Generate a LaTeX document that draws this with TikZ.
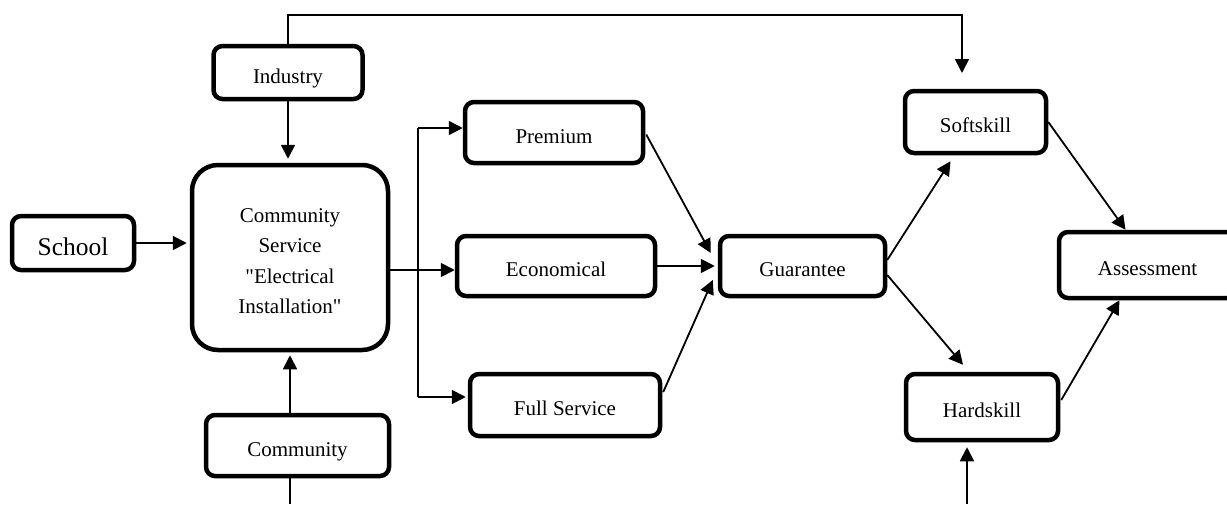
\documentclass[tikz,border=0pt]{standalone}
\usepackage{fontspec}
\setmainfont{Liberation Serif}[Ligatures=TeXOff]
\usetikzlibrary{arrows.meta,calc}
\begin{document}
\begin{tikzpicture}[x=1pt,y=-1pt,
  box/.style={draw, line width=4.5pt, rounded corners=9pt, align=center, inner sep=0pt,
    font=\fontsize{21}{30.5}\selectfont, text height=21pt, text depth=0pt},
  arr/.style={line width=1.8pt, -{Triangle[length=14pt,width=14pt]}},
  ln/.style={line width=1.8pt}]
\useasboundingbox (0,0) rectangle (1227,504);
\clip (0,0) rectangle (1227,504);
% nodes
\node[box, minimum width=149pt, minimum height=53pt] (ind) at (288,72.5) {Industry};
\node[box, minimum width=196pt, minimum height=185pt, rounded corners=26pt, text height=112.5pt] (cs) at (290,257.5)
  {Community\\Service\\"Electrical\\Installation"};
\node[box, font=\fontsize{25.5}{30}\selectfont, text height=24pt, minimum width=122pt, minimum height=54pt] (school) at (73,243) {School};
\node[box, minimum width=183pt, minimum height=61pt] (comm) at (297.5,445.5) {Community};
\node[box, minimum width=178pt, minimum height=61pt] (prem) at (554,132.5) {Premium};
\node[box, minimum width=198pt, minimum height=60pt] (econ) at (556,266) {Economical};
\node[box, minimum width=190pt, minimum height=62pt] (full) at (565,405) {Full Service};
\node[box, minimum width=165pt, minimum height=60pt] (guar) at (802.5,266) {Guarantee};
\node[box, minimum width=141pt, minimum height=62pt] (soft) at (975.5,122) {Softskill};
\node[box, minimum width=177pt, minimum height=66pt] (asse) at (1147.5,265) {Assessment};
\node[box, minimum width=152pt, minimum height=66pt] (hard) at (982,407) {Hardskill};
% coordinates
\coordinate (tr) at (962,15);
\coordinate (softin) at (962,73);
\coordinate (commout) at (290,504);
\coordinate (hardin) at (967,504);
\coordinate (br) at (418,270);
\coordinate (bt) at (418,128);
\coordinate (bb) at (418,397);
% connectors
\draw[arr] (ind.north) |- (tr) -- (softin);
\draw[arr, shorten >=4pt] (ind.south) -- (ind.south |- cs.north);
\draw[arr, shorten >=3pt] (cs.south |- comm.north) -- (cs.south);
\draw[ln] (cs.south |- comm.south) -- (commout);
\draw[arr, shorten >=3pt] (school.east) -- (school.east -| cs.west);
\draw[arr] (cs.east |- br) -- (econ.west |- br);
\draw[ln] (bt) -- (bb);
\draw[arr] (bt) -- (prem.west |- bt);
\draw[arr, shorten >=2pt] (bb) -- (full.west |- bb);
\draw[arr, shorten >=3pt] (econ.east) -- (guar.west);
\draw[arr] ($(prem.east)+(1,2)$) -- ($(guar.west)+(-7,-13)$);
\draw[arr] ($(full.east)+(1,-13)$) -- ($(guar.west)+(-5,14)$);
\draw[arr] ($(guar.east)+(0,-6)$) -- ($(soft.south)+(-25,6)$);
\draw[arr] ($(guar.east)+(0,9)$) -- ($(hard.north)+(-19,-7)$);
\draw[arr] (soft.east) -- ($(asse.north)+(-22,0)$);
\draw[arr] ($(hard.east)+(1,-7)$) -- ($(asse.south)+(-28,0)$);
\draw[arr, shorten >=5pt] (hardin) -- (hardin |- hard.south);
\end{tikzpicture}
\end{document}
